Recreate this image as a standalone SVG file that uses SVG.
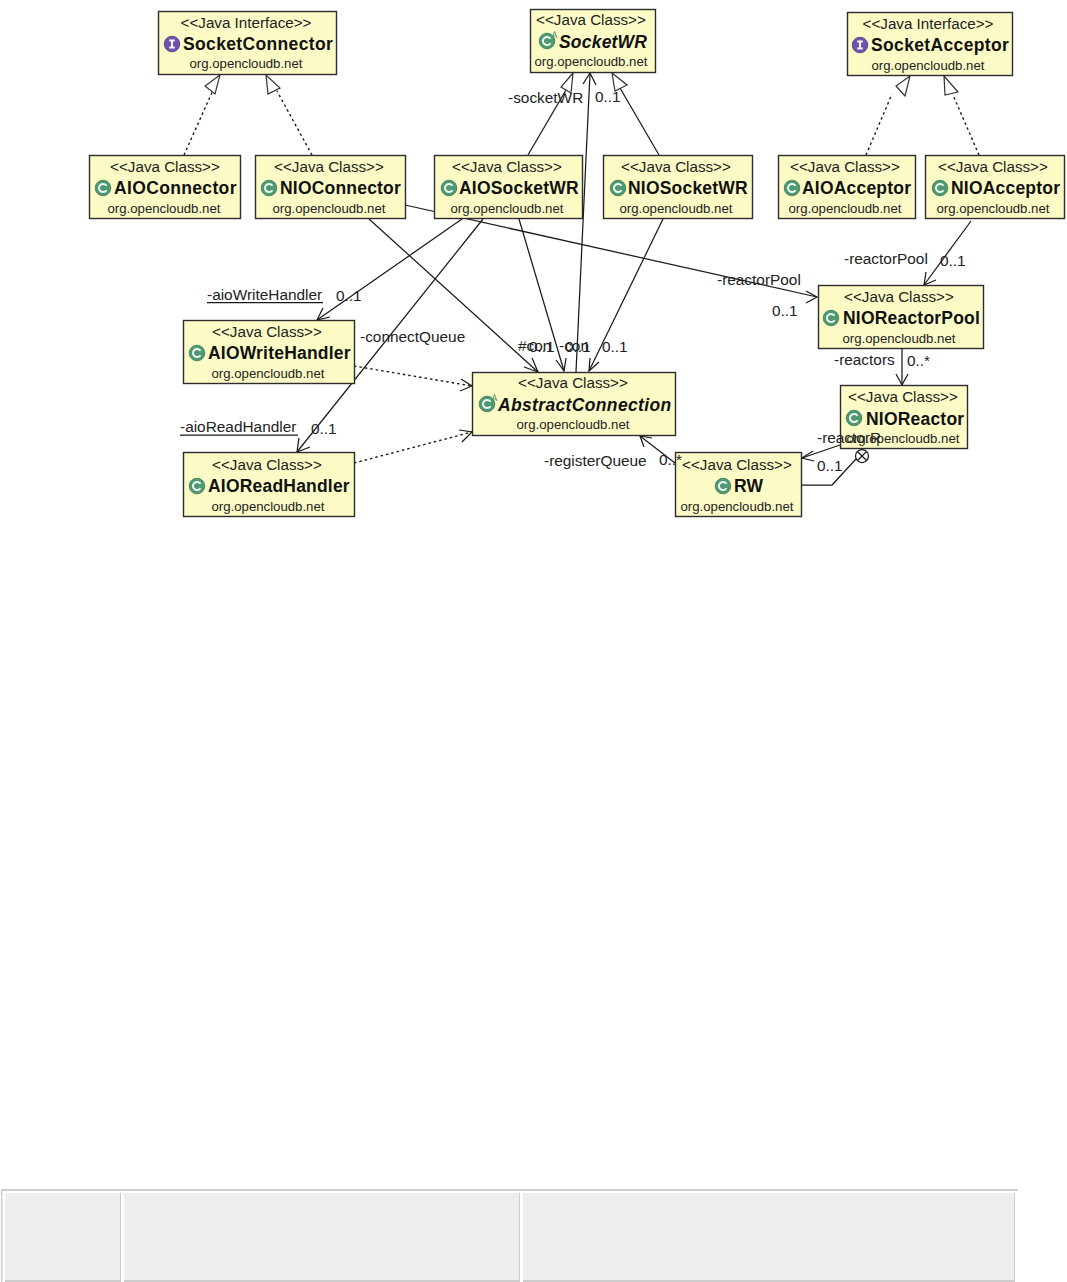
<svg xmlns="http://www.w3.org/2000/svg" width="1067" height="1282" viewBox="0 0 1067 1282">
<style>
text{font-family:"Liberation Sans",Arial,sans-serif;fill:#222}
.box{fill:#fcfbc6;stroke:#2c2c2c;stroke-width:1.4}
.st{font-size:15.2px;text-anchor:middle}
.nm{font-size:17.5px;font-weight:bold;fill:#111;letter-spacing:.2px}
.wd{letter-spacing:.35px}
.it{font-style:italic}
.pk{font-size:13.2px;text-anchor:middle}
.lb{font-size:15.4px}
.ln{fill:none;stroke:#1a1a1a;stroke-width:1.25}
.da{fill:none;stroke:#1a1a1a;stroke-width:1.4;stroke-dasharray:2.5 3}
.ar{fill:none;stroke:#1a1a1a;stroke-width:1.25}
.tr{fill:#fff;stroke:#333;stroke-width:1.2}
.ci{fill:#4f9a72;stroke:#3a7a58;stroke-width:.8}
.ii{fill:#6f52ab;stroke:#4f3a88;stroke-width:.8}
.ic{fill:none;stroke:#eef6f0;stroke-width:2}
.ab{fill:none;stroke:#4f9a72;stroke-width:1}
</style>
<defs>
<g id="cIcon"><circle r="7.8" class="ci"/><path class="ic" d="M3.500-2.200A4.100 4.100 0 1 0 3.500 2.200"/></g>
<g id="aIcon"><use href="#cIcon"/><path class="ab" d="M5-3L7.500-9.500L10-3M6-5H9"/></g>
<g id="iIcon"><circle r="7.8" class="ii"/><path class="ic" d="M-2.800-3.500H2.800M0-3.500V3.500M-2.800 3.500H2.800"/></g>
</defs>
<rect width="1067" height="1282" fill="#fff"/>
<g id="connectors">
<path class="da" d="M184 155L214 88"/><path class="tr" d="M220 75L205 86L215 94Z"/>
<path class="da" d="M312 155L277 91"/><path class="tr" d="M266 75L268 94L280 88Z"/>
<path class="da" d="M866 155L892 94"/><path class="tr" d="M910 76L896 86L905 96Z"/>
<path class="da" d="M979 155L953 95"/><path class="tr" d="M944 76L945 95L958 92Z"/>
<path class="ln" d="M528 155L566 90"/><path class="tr" d="M573 73L561 87L571 93Z"/>
<path class="ln" d="M659 155L620 88"/><path class="tr" d="M612 73L615 91L627 85Z"/>
<path class="ln" d="M576 372L590 73"/><path class="ar" d="M583 84L590 73L596 85"/>
<path class="ln" d="M369 219L538 372"/><path class="ar" d="M524 367L538 372L532 358"/>
<path class="ln" d="M519 219L564 371"/><path class="ar" d="M556 360L564 371L566 358"/>
<path class="ln" d="M663 219L589 371"/><path class="ar" d="M590 358L589 371L599 362"/>
<path class="ln" d="M462 219L317 320"/><path class="ar" d="M330 317L317 320L323 308"/>
<path class="ln" d="M483 219L297 452"/><path class="ar" d="M310 447L297 452L299 438"/>
<path class="ln" d="M405 205L817 297"/><path class="ar" d="M806 291L817 297L806 303"/>
<path class="ln" d="M971 221L924 285"/><path class="ar" d="M936 280L924 285L926 272"/>
<path class="ln" d="M902 349V385"/><path class="ar" d="M896 374L902 385L908 374"/>
<path class="da" d="M354 366L472 386"/><path class="ar" d="M461 379L472 386L460 391"/>
<path class="da" d="M354 463L472 432"/><path class="ar" d="M459 430L472 432L462 442"/>
<path class="ln" d="M840 445L802 458"/><path class="ar" d="M813 451L802 458L814 461"/>
<path class="ln" d="M675 463L640 436"/><path class="ar" d="M644 447L640 436L652 438"/>
<path class="ln" d="M802 485H832L856 459"/>
<circle class="ar" cx="862" cy="456" r="6.500"/><path class="ar" d="M857.500 451.500L866.500 460.500M857.500 460.500L866.500 451.500"/>
</g>
<g id="SocketConnector"><rect class="box" x="158.500" y="11.500" width="178" height="63"/><text class="st" x="246" y="28">&lt;&lt;Java Interface&gt;&gt;</text><use href="#iIcon" x="172" y="44"/><text class="nm wd" x="183" y="50">SocketConnector</text><text class="pk" x="246" y="68">org.opencloudb.net</text></g>
<g id="SocketWR"><rect class="box" x="530.500" y="9.500" width="125" height="63"/><text class="st" x="591" y="25">&lt;&lt;Java Class&gt;&gt;</text><use href="#aIcon" x="547" y="41"/><text class="nm it" x="559" y="48">SocketWR</text><text class="pk" x="591" y="66">org.opencloudb.net</text></g>
<g id="SocketAcceptor"><rect class="box" x="847.500" y="12.500" width="165" height="63"/><text class="st" x="928" y="29">&lt;&lt;Java Interface&gt;&gt;</text><use href="#iIcon" x="860" y="45"/><text class="nm wd" x="871" y="51">SocketAcceptor</text><text class="pk" x="928" y="70">org.opencloudb.net</text></g>
<g id="AIOConnector"><rect class="box" x="89.500" y="155.500" width="151" height="63"/><text class="st" x="165" y="172">&lt;&lt;Java Class&gt;&gt;</text><use href="#cIcon" x="103" y="188"/><text class="nm wd" x="114" y="194">AIOConnector</text><text class="pk" x="164" y="213">org.opencloudb.net</text></g>
<g id="NIOConnector"><rect class="box" x="255.500" y="155.500" width="150" height="63"/><text class="st" x="329" y="172">&lt;&lt;Java Class&gt;&gt;</text><use href="#cIcon" x="269" y="188"/><text class="nm" x="280" y="194">NIOConnector</text><text class="pk" x="329" y="213">org.opencloudb.net</text></g>
<g id="AIOSocketWR"><rect class="box" x="434.500" y="155.500" width="148" height="63"/><text class="st" x="507" y="172">&lt;&lt;Java Class&gt;&gt;</text><use href="#cIcon" x="449" y="188"/><text class="nm" x="459" y="194">AIOSocketWR</text><text class="pk" x="507" y="213">org.opencloudb.net</text></g>
<g id="NIOSocketWR"><rect class="box" x="603.500" y="155.500" width="149" height="63"/><text class="st" x="676" y="172">&lt;&lt;Java Class&gt;&gt;</text><use href="#cIcon" x="618" y="188"/><text class="nm" x="628" y="194">NIOSocketWR</text><text class="pk" x="676" y="213">org.opencloudb.net</text></g>
<g id="AIOAcceptor"><rect class="box" x="778.500" y="155.500" width="137" height="63"/><text class="st" x="845" y="172">&lt;&lt;Java Class&gt;&gt;</text><use href="#cIcon" x="792" y="188"/><text class="nm" x="802" y="194">AIOAcceptor</text><text class="pk" x="845" y="213">org.opencloudb.net</text></g>
<g id="NIOAcceptor"><rect class="box" x="925.500" y="155.500" width="139" height="63"/><text class="st" x="993" y="172">&lt;&lt;Java Class&gt;&gt;</text><use href="#cIcon" x="940" y="188"/><text class="nm" x="951" y="194">NIOAcceptor</text><text class="pk" x="993" y="213">org.opencloudb.net</text></g>
<g id="NIOReactorPool"><rect class="box" x="818.500" y="285.500" width="165" height="63"/><text class="st" x="899" y="302">&lt;&lt;Java Class&gt;&gt;</text><use href="#cIcon" x="831" y="318"/><text class="nm" x="843" y="324">NIOReactorPool</text><text class="pk" x="899" y="343">org.opencloudb.net</text></g>
<g id="AIOWriteHandler"><rect class="box" x="183.500" y="320.500" width="171" height="63"/><text class="st" x="267" y="337">&lt;&lt;Java Class&gt;&gt;</text><use href="#cIcon" x="197" y="353"/><text class="nm" x="208" y="359">AIOWriteHandler</text><text class="pk" x="268" y="378">org.opencloudb.net</text></g>
<g id="AbstractConnection"><rect class="box" x="472.500" y="372.500" width="203" height="63"/><text class="st" x="573" y="388">&lt;&lt;Java Class&gt;&gt;</text><use href="#aIcon" x="487" y="404"/><text class="nm it wd" x="498" y="411">AbstractConnection</text><text class="pk" x="573" y="429">org.opencloudb.net</text></g>
<g id="NIOReactor"><rect class="box" x="840.500" y="385.500" width="127" height="63"/><text class="st" x="903" y="402">&lt;&lt;Java Class&gt;&gt;</text><use href="#cIcon" x="854" y="418"/><text class="nm" x="866" y="425">NIOReactor</text><text class="pk" x="903" y="443">org.opencloudb.net</text></g>
<g id="AIOReadHandler"><rect class="box" x="183.500" y="452.500" width="171" height="64"/><text class="st" x="267" y="470">&lt;&lt;Java Class&gt;&gt;</text><use href="#cIcon" x="197" y="486"/><text class="nm" x="208" y="492">AIOReadHandler</text><text class="pk" x="268" y="511">org.opencloudb.net</text></g>
<g id="RW"><rect class="box" x="675.500" y="452.500" width="126" height="64"/><text class="st" x="737" y="470">&lt;&lt;Java Class&gt;&gt;</text><use href="#cIcon" x="723" y="486"/><text class="nm" x="734" y="492">RW</text><text class="pk" x="737" y="511">org.opencloudb.net</text></g>
<g id="connector-labels">
<text class="lb" x="508" y="103">-socketWR</text><text class="lb" x="595" y="102">0..1</text>
<text class="lb" x="207" y="300">-aioWriteHandler</text><path class="ln" d="M207 302.500H323"/>
<text class="lb" x="336" y="301">0..1</text>
<text class="lb" x="360" y="342">-connectQueue</text>
<text class="lb" x="180" y="432">-aioReadHandler</text><path class="ln" d="M180 435H298"/>
<text class="lb" x="311" y="434">0..1</text>
<text class="lb" x="518" y="351">#con</text><text class="lb" x="529" y="352">0..1</text>
<text class="lb" x="559" y="351">-con</text><text class="lb" x="565" y="352">0..1</text>
<text class="lb" x="602" y="352">0..1</text>
<text class="lb" x="717" y="285">-reactorPool</text><text class="lb" x="772" y="316">0..1</text>
<text class="lb" x="844" y="264">-reactorPool</text><text class="lb" x="940" y="266">0..1</text>
<text class="lb" x="834" y="365">-reactors</text><text class="lb" x="907" y="366">0..*</text>
<text class="lb" x="817" y="443">-reactorR</text><text class="lb" x="817" y="471">0..1</text>
<text class="lb" x="544" y="466">-registerQueue</text><text class="lb" x="659" y="465">0..*</text>
</g>
<g id="bottom-table" fill="#ccc">
<rect x="1" y="1189" width="1017" height="2"/><rect x="1" y="1189" width="1.500" height="93"/>
<rect x="5" y="1193" width="115" height="87" fill="#eee"/><rect x="5" y="1280" width="115" height="2"/><rect x="120" y="1193" width="1" height="89"/>
<rect x="124" y="1193" width="395" height="87" fill="#eee"/><rect x="124" y="1280" width="395" height="2"/><rect x="519" y="1193" width="1" height="89"/>
<rect x="523" y="1193" width="491" height="87" fill="#eee"/><rect x="523" y="1280" width="491" height="2"/><rect x="1014" y="1193" width="1" height="89"/>
</g>
</svg>
